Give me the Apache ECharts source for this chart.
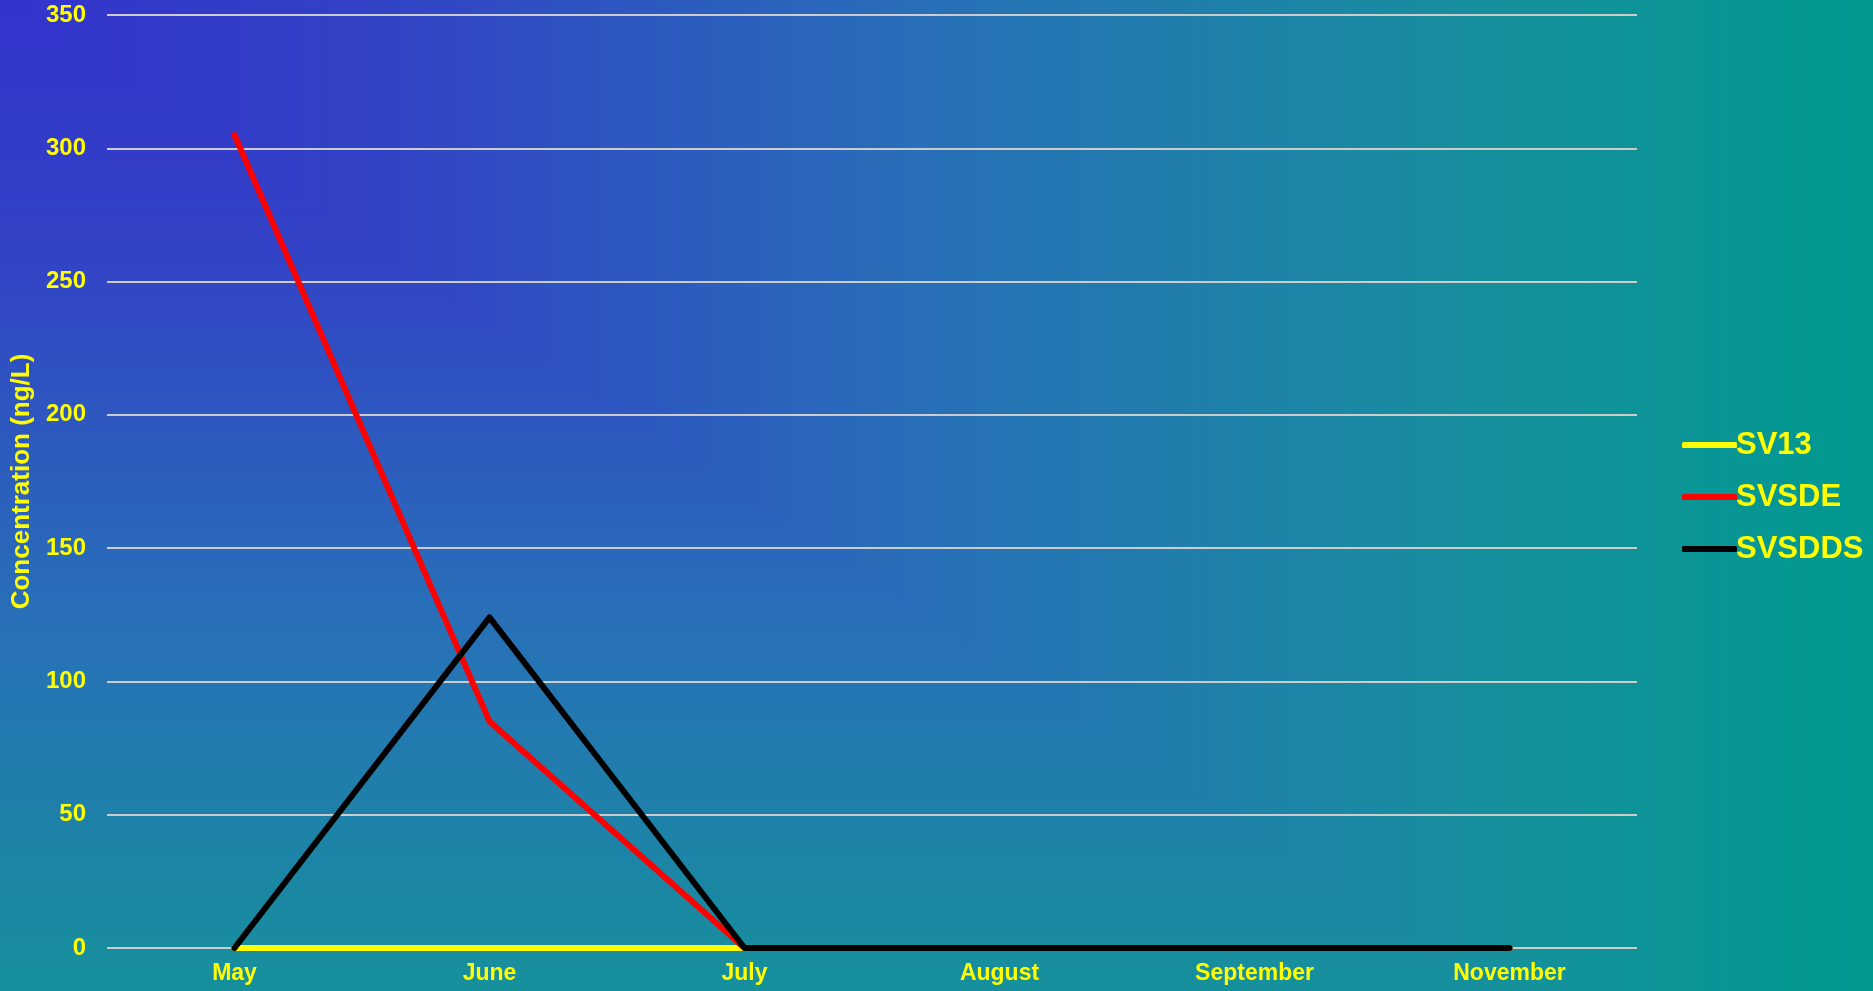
<!DOCTYPE html>
<html>
<head>
<meta charset="utf-8">
<style>
html,body{margin:0;padding:0;width:1873px;height:991px;overflow:hidden;}
#c{width:1873px;height:991px;}
</style>
<script src="https://cdn.jsdelivr.net/npm/echarts@6/dist/echarts.min.js"></script>
</head>
<body>
<div id="c"></div>
<script>
var categories = ['May', 'June', 'July', 'August', 'September', 'November'];
var sv13 = [0, 0, 0, 0, 0, 0];
var svsde = [305, 85, 0, 0, 0, 0];
var svsdds = [0, 124, 0, 0, 0, 0];
var yTicks = { min: 0, max: 350, interval: 50 };

var W = 1873, H = 991, VH = 1240;
var FONT = '"Liberation Sans", Arial, sans-serif';
var stops = [
  { offset: 0, color: '#3333cc' },
  { offset: 0.2, color: '#3242c6' },
  { offset: 0.5, color: '#2870b8' },
  { offset: 0.8, color: '#16909c' },
  { offset: 1, color: '#009990' }
];
var chart = echarts.init(document.getElementById('c'));
chart.setOption({
  backgroundColor: 'transparent',
  graphic: [
    { type: 'rect', z: -10, silent: true, shape: { x: 0, y: 0, width: W, height: H },
      style: { fill: new echarts.graphic.LinearGradient(0, 0, W, 0, stops, true) } },
    { type: 'polygon', z: -9, silent: true, shape: { points: [[0, 0], [0, H], [W * H / VH, H]] },
      style: { fill: new echarts.graphic.LinearGradient(0, 0, 0, VH, stops, true) } }
  ],
  grid: { left: 107, right: 236, top: 15, bottom: 43, containLabel: false },
  legend: {
    orient: 'vertical', left: 1677, top: 421,
    itemWidth: 55, itemHeight: 6, itemGap: 14,
    icon: 'roundRect',
    textStyle: { color: '#ffff00', fontWeight: 'bold', fontSize: 31, fontFamily: FONT, lineHeight: 38, padding: [0, 0, 0, -6] },
    data: ['SV13', 'SVSDE', 'SVSDDS']
  },
  xAxis: {
    type: 'category', data: categories, boundaryGap: true,
    axisLine: { show: false }, axisTick: { show: false },
    axisLabel: { color: '#ffff00', fontWeight: 'bold', fontSize: 23, fontFamily: FONT, margin: 14, interval: 0 }
  },
  yAxis: {
    type: 'value', min: yTicks.min, max: yTicks.max, interval: yTicks.interval,
    name: 'Concentration (ng/L)', nameLocation: 'middle', nameGap: 63,
    nameTextStyle: { color: '#ffff00', fontWeight: 'bold', fontSize: 26, fontFamily: FONT },
    axisLine: { show: false }, axisTick: { show: false },
    axisLabel: { color: '#ffff00', fontWeight: 'bold', fontSize: 24, fontFamily: FONT, margin: 21 },
    splitLine: { show: true, lineStyle: { color: '#cccccc', width: 2 } }
  },
  series: [
    { name: 'SV13', type: 'line', data: sv13, symbol: 'none', z: 2,
      lineStyle: { color: '#ffff00', width: 6, cap: 'round', join: 'round' }, itemStyle: { color: '#ffff00' } },
    { name: 'SVSDE', type: 'line', data: svsde, symbol: 'none', z: 3,
      lineStyle: { color: '#ff0000', width: 6, cap: 'round', join: 'round' }, itemStyle: { color: '#ff0000' } },
    { name: 'SVSDDS', type: 'line', data: svsdds, symbol: 'none', z: 4,
      lineStyle: { color: '#000000', width: 6, cap: 'round', join: 'round' }, itemStyle: { color: '#000000' } }
  ],
  animation: false
});
</script>
</body>
</html>
